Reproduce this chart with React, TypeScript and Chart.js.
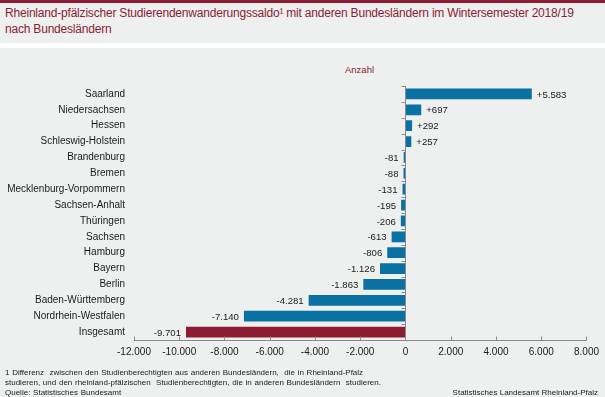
import React, { useEffect, useRef } from 'react';
import { Chart, registerables } from 'chart.js';

Chart.register(...registerables);

const categories = [
  'Saarland',
  'Niedersachsen',
  'Hessen',
  'Schleswig-Holstein',
  'Brandenburg',
  'Bremen',
  'Mecklenburg-Vorpommern',
  'Sachsen-Anhalt',
  'Thüringen',
  'Sachsen',
  'Hamburg',
  'Bayern',
  'Berlin',
  'Baden-Württemberg',
  'Nordrhein-Westfalen',
  'Insgesamt',
];

const values = [5583, 697, 292, 257, -81, -88, -131, -195, -206, -613, -806, -1126, -1863, -4281, -7140, -9701];

const axisMin = -12000;
const axisMax = 8000;
const axisStep = 2000;

const BLUE = '#0A71A3';
const DARKRED = '#8B1C31';
const BG = '#EEF0EF';
const FONT = '"Liberation Sans", Arial, sans-serif';

function fmt(v: number): string {
  const s = Math.abs(Math.round(v)).toString().replace(/\B(?=(\d{3})+(?!\d))/g, '.');
  return (v < 0 ? '-' : '') + s;
}

const axesPlugin = {
  id: 'customAxes',
  afterDraw(chart: any) {
    const { ctx, chartArea, scales } = chart;
    const x = scales.x;
    ctx.save();
    ctx.strokeStyle = '#8a8a8a';
    ctx.lineWidth = 1;
    const x0 = Math.round(x.getPixelForValue(0)) + 0.5;
    const bottom = Math.round(chartArea.bottom) + 0.5;
    ctx.beginPath();
    ctx.moveTo(x0, chartArea.top);
    ctx.lineTo(x0, bottom);
    const n = categories.length;
    const h = (chartArea.bottom - chartArea.top) / n;
    for (let i = 0; i < n; i++) {
      const yy = Math.round(chartArea.top + i * h) + 0.5;
      ctx.moveTo(x0 - 4, yy);
      ctx.lineTo(x0, yy);
    }
    ctx.moveTo(chartArea.left, bottom);
    ctx.lineTo(chartArea.right, bottom);
    for (let v = axisMin; v <= axisMax; v += axisStep) {
      const xx = Math.round(x.getPixelForValue(v)) + 0.5;
      ctx.moveTo(xx, bottom - 4);
      ctx.lineTo(xx, bottom);
    }
    ctx.stroke();
    ctx.restore();
  },
  afterDatasetsDraw(chart: any) {
    const { ctx } = chart;
    const meta = chart.getDatasetMeta(0);
    ctx.save();
    ctx.font = '9.6px ' + FONT;
    ctx.fillStyle = '#1a1a1a';
    ctx.textBaseline = 'middle';
    meta.data.forEach((el: any, i: number) => {
      const v = values[i];
      if (v >= 0) {
        ctx.textAlign = 'left';
        ctx.fillText('+' + fmt(v), el.x + 5, el.y + 1);
      } else {
        ctx.textAlign = 'right';
        ctx.fillText(fmt(v), el.x - 5, el.y + 1);
      }
    });
    ctx.restore();
  },
};

export default function App() {
  const ref = useRef<HTMLCanvasElement>(null);

  useEffect(() => {
    document.body.style.margin = '0';
    const chart = new Chart(ref.current as HTMLCanvasElement, {
      type: 'bar',
      data: {
        labels: categories,
        datasets: [
          {
            data: values,
            backgroundColor: categories.map((c) => (c === 'Insgesamt' ? DARKRED : BLUE)),
            barPercentage: 0.68,
            categoryPercentage: 1,
          },
        ],
      },
      options: {
        indexAxis: 'y',
        animation: false,
        responsive: false,
        maintainAspectRatio: false,
        layout: { padding: { top: 86, right: 18, bottom: 0, left: 0 } },
        plugins: { legend: { display: false }, tooltip: { enabled: false } },
        scales: {
          x: {
            min: axisMin,
            max: axisMax,
            grid: { display: false, drawTicks: false },
            border: { display: false },
            ticks: {
              stepSize: axisStep,
              padding: 6,
              color: '#1a1a1a',
              font: { family: FONT, size: 10 },
              maxRotation: 0,
              callback: (v: any) => fmt(Number(v)),
            },
            afterFit: (s: any) => {
              s.height = 57;
            },
          },
          y: {
            grid: { display: false, drawTicks: false },
            border: { display: false },
            ticks: {
              padding: 9,
              color: '#1a1a1a',
              font: { family: FONT, size: 10 },
              autoSkip: false,
            },
            afterFit: (s: any) => {
              s.width = 134;
            },
          },
        },
      },
      plugins: [axesPlugin],
    });
    return () => chart.destroy();
  }, []);

  return (
    <div
      style={{
        position: 'fixed',
        left: 0,
        top: 0,
        width: 605,
        height: 397,
        background: BG,
        fontFamily: FONT,
        overflow: 'hidden',
      }}
    >
      <div style={{ position: 'absolute', left: 0, top: 0, width: 605, height: 3, background: DARKRED }} />
      <div
        style={{
          position: 'absolute',
          left: 5,
          top: 5,
          fontSize: 12,
          lineHeight: '16px',
          color: DARKRED,
          letterSpacing: '-0.2px',
          whiteSpace: 'nowrap',
        }}
      >
        Rheinland-pfälzischer Studierendenwanderungssaldo¹ mit anderen Bundesländern im Wintersemester 2018/19
        <br />
        nach Bundesländern
      </div>
      <div style={{ position: 'absolute', left: 0, top: 43, width: 605, height: 5, background: '#ffffff' }} />
      <div style={{ position: 'absolute', left: 345, top: 64, fontSize: 9.5, color: DARKRED }}>Anzahl</div>
      <canvas ref={ref} width={605} height={397} style={{ position: 'absolute', left: 0, top: 0 }} />
      <div
        style={{
          position: 'absolute',
          left: 5,
          top: 368,
          fontSize: 8,
          lineHeight: '10px',
          color: '#1a1a1a',
          whiteSpace: 'pre',
          wordSpacing: '0.5px',
        }}
      >
        {'1 Differenz  zwischen den Studienberechtigten aus anderen Bundesländern,  die in Rheinland-Pfalz'}
        <br />
        {'studieren, und den rheinland-pfälzischen  Studienberechtigten, die in anderen Bundesländern  studieren.'}
        <br />
        {'Quelle: Statistisches Bundesamt'}
      </div>
      <div
        style={{
          position: 'absolute',
          right: 7,
          top: 388,
          fontSize: 8,
          lineHeight: '10px',
          color: '#1a1a1a',
          whiteSpace: 'nowrap',
        }}
      >
        Statistisches Landesamt Rheinland-Pfalz
      </div>
    </div>
  );
}
